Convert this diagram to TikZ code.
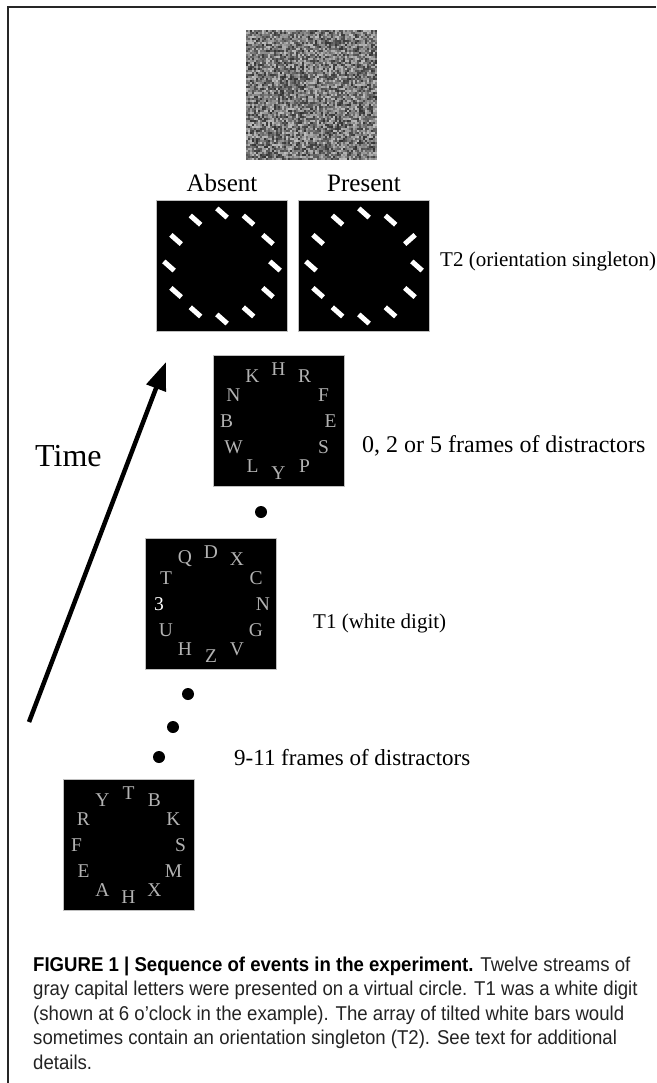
\documentclass[tikz,border=0pt]{standalone}
\usepackage{fontspec}
\setmainfont{Liberation Serif}
\newfontfamily\capfont[FakeStretch=0.93]{Liberation Sans}
\usetikzlibrary{arrows.meta,calc}
\definecolor{letgray}{RGB}{178,178,178}
\definecolor{captext}{RGB}{35,35,35}
\begin{document}
\begin{tikzpicture}[x=1pt,y=-1pt,
  panel/.style={draw=gray!50, line width=0.8pt, fill=black, minimum size=131pt, inner sep=0pt, outer sep=0pt},
  lett/.style={text=letgray, font=\fontsize{19.5}{19.5}\selectfont, inner sep=0pt},
  lbl/.style={inner sep=0pt, anchor=base west},
  toplbl/.style={inner sep=0pt, anchor=base, font=\fontsize{25}{25}\selectfont},
  dot/.style={circle, fill=black, minimum size=12pt, inner sep=0pt},
  bar/.style={white, line width=5pt},
  capline/.style={inner sep=0pt, anchor=base west, text=captext, font=\capfont\fontsize{20}{24}\selectfont}]
\useasboundingbox (0,0) rectangle (656,1083);
% frame
\draw[line width=1.5pt, black!85] (8,1083) -- (8,7) -- (656,7);
% noise mask
\pgfmathsetseed{7}
\foreach \i in {0,...,64}{\foreach \j in {0,...,64}{
  \pgfmathtruncatemacro\g{random(25,80)}
  \fill[black!\g] ({246+\i*2.015},{30+\j*2.0}) rectangle ++(2.1,2.1);
}}
\node[inner sep=0pt, minimum size=131pt] (mask) at (311.5,95) {};
% bar arrays
\node[panel] (absent) at (222,266) {};
\node[panel] (present) at (364,266) {};
\foreach \k in {0,...,11}{
  \draw[bar] ($(absent.center)+({30*\k-90}:53)+(-5.2,-4.6)$) -- ++(10.4,9.2);
}
\foreach \k in {0,1,3,4,5,6,7,8,9,10,11}{
  \draw[bar] ($(present.center)+({30*\k-90}:53)+(-5.2,-4.6)$) -- ++(10.4,9.2);
}
\draw[bar] ($(present.center)+({30*2-90}:53)+(-5.2,4.6)$) -- ++(10.4,-9.2);
\node[toplbl] (labs) at (222,192) {Absent};
\node[toplbl] (lpre) at (364,192) {Present};
\node[lbl, font=\fontsize{21}{21}\selectfont] (lt2) at (440,266) {T2 (orientation singleton)};
% letter frames
\node[panel] (fa) at (278.5,421) {};
\foreach \l [count=\k from 0] in {H,R,F,E,S,P,Y,L,W,B,N,K}
  \node[lett] at ($(fa.center)+({30*\k-90}:52)$) {\l};
\node[lbl, font=\fontsize{24}{24}\selectfont] (lfa) at (362,452) {0, 2 or 5 frames of distractors};
\node[dot] (d1) at (261,512) {};
\node[panel] (fb) at (211,604) {};
\foreach \l [count=\k from 0] in {D,X,C,N,G,V,Z,H,U,\textcolor{white}{3},T,Q}
  \node[lett] at ($(fb.center)+({30*\k-90}:52)$) {\l};
\node[lbl, font=\fontsize{21}{21}\selectfont] (lfb) at (313,628) {T1 (white digit)};
\node[dot] (d2) at (188,694) {};
\node[dot] (d3) at (173,727) {};
\node[dot] (d4) at (159,757) {};
\node[lbl, font=\fontsize{23}{23}\selectfont] (lfc) at (234,765) {9-11 frames of distractors};
\node[panel] (fc) at (128.5,845) {};
\foreach \l [count=\k from 0] in {T,B,K,S,M,X,H,A,E,F,R,Y}
  \node[lett] at ($(fc.center)+({30*\k-90}:52)$) {\l};
% time arrow
\coordinate (tail) at (29,722);
\coordinate (tip) at (166,362);
\draw[line width=4.5pt, -{Triangle[length=28pt,width=20pt]}] (tail) -- (tip);
\node[lbl, font=\fontsize{32}{32}\selectfont] (ltime) at (35,466) {Time};
% caption
\node[capline] (c1) at (33,971) {{\bfseries\color{black}FIGURE 1 | Sequence of events in the experiment.} Twelve streams of};
\node[capline] (c2) at (33,995.6) {gray capital letters were presented on a virtual circle. T1 was a white digit};
\node[capline] (c3) at (33,1020.2) {(shown at 6 o’clock in the example). The array of tilted white bars would};
\node[capline] (c4) at (33,1044.8) {sometimes contain an orientation singleton (T2). See text for additional};
\node[capline] (c5) at (33,1069.4) {details.};
\end{tikzpicture}
\end{document}
